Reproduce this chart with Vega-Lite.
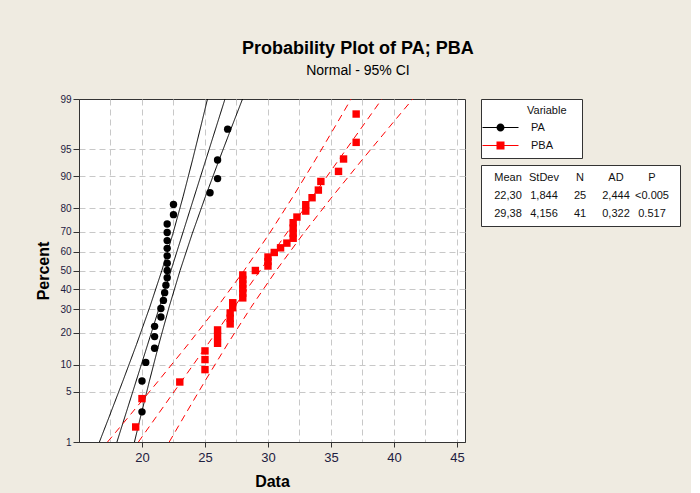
{
  "$schema": "https://vega.github.io/schema/vega-lite/v6.json",
  "background": "#EFEBE1",
  "padding": {"top": 39, "left": 35, "right": 10, "bottom": 5},
  "title": {
    "text": "Probability Plot of PA; PBA",
    "subtitle": "Normal - 95% CI",
    "anchor": "middle",
    "font": "Liberation Sans",
    "fontSize": 18,
    "fontWeight": "bold",
    "color": "#000000",
    "subtitleFont": "Liberation Sans",
    "subtitleFontSize": 14,
    "subtitleColor": "#000000",
    "subtitlePadding": 6,
    "offset": 16
  },
  "datasets": {
    "plot": [
      {"s": "PA", "k": "fit", "x": 18.011, "p": 1},
      {"s": "PA", "k": "fit", "x": 26.589, "p": 99},
      {"s": "PA", "k": "lo", "x": 16.62, "p": 1},
      {"s": "PA", "k": "lo", "x": 17.36, "p": 2.275},
      {"s": "PA", "k": "lo", "x": 18.48, "p": 6.681},
      {"s": "PA", "k": "lo", "x": 19.571, "p": 15.866},
      {"s": "PA", "k": "lo", "x": 20.611, "p": 30.854},
      {"s": "PA", "k": "lo", "x": 21.577, "p": 50},
      {"s": "PA", "k": "lo", "x": 22.455, "p": 69.146},
      {"s": "PA", "k": "lo", "x": 23.259, "p": 84.134},
      {"s": "PA", "k": "lo", "x": 24.012, "p": 93.319},
      {"s": "PA", "k": "lo", "x": 24.736, "p": 97.725},
      {"s": "PA", "k": "lo", "x": 25.198, "p": 99},
      {"s": "PA", "k": "hi", "x": 19.402, "p": 1},
      {"s": "PA", "k": "hi", "x": 19.864, "p": 2.275},
      {"s": "PA", "k": "hi", "x": 20.588, "p": 6.681},
      {"s": "PA", "k": "hi", "x": 21.341, "p": 15.866},
      {"s": "PA", "k": "hi", "x": 22.145, "p": 30.854},
      {"s": "PA", "k": "hi", "x": 23.023, "p": 50},
      {"s": "PA", "k": "hi", "x": 23.989, "p": 69.146},
      {"s": "PA", "k": "hi", "x": 25.029, "p": 84.134},
      {"s": "PA", "k": "hi", "x": 26.12, "p": 93.319},
      {"s": "PA", "k": "hi", "x": 27.24, "p": 97.725},
      {"s": "PA", "k": "hi", "x": 27.98, "p": 99},
      {"s": "PBA", "k": "fit", "x": 19.713, "p": 1},
      {"s": "PBA", "k": "fit", "x": 39.047, "p": 99},
      {"s": "PBA", "k": "lo", "x": 17.264, "p": 1},
      {"s": "PBA", "k": "lo", "x": 18.864, "p": 2.275},
      {"s": "PBA", "k": "lo", "x": 21.291, "p": 6.681},
      {"s": "PBA", "k": "lo", "x": 23.666, "p": 15.866},
      {"s": "PBA", "k": "lo", "x": 25.953, "p": 30.854},
      {"s": "PBA", "k": "lo", "x": 28.108, "p": 50},
      {"s": "PBA", "k": "lo", "x": 30.109, "p": 69.146},
      {"s": "PBA", "k": "lo", "x": 31.978, "p": 84.134},
      {"s": "PBA", "k": "lo", "x": 33.759, "p": 93.319},
      {"s": "PBA", "k": "lo", "x": 35.488, "p": 97.725},
      {"s": "PBA", "k": "lo", "x": 36.598, "p": 99},
      {"s": "PBA", "k": "hi", "x": 22.162, "p": 1},
      {"s": "PBA", "k": "hi", "x": 23.272, "p": 2.275},
      {"s": "PBA", "k": "hi", "x": 25.001, "p": 6.681},
      {"s": "PBA", "k": "hi", "x": 26.782, "p": 15.866},
      {"s": "PBA", "k": "hi", "x": 28.651, "p": 30.854},
      {"s": "PBA", "k": "hi", "x": 30.652, "p": 50},
      {"s": "PBA", "k": "hi", "x": 32.807, "p": 69.146},
      {"s": "PBA", "k": "hi", "x": 35.094, "p": 84.134},
      {"s": "PBA", "k": "hi", "x": 37.469, "p": 93.319},
      {"s": "PBA", "k": "hi", "x": 39.896, "p": 97.725},
      {"s": "PBA", "k": "hi", "x": 41.496, "p": 99},
      {"s": "PA", "k": "pt", "x": 20.0, "p": 2.76},
      {"s": "PA", "k": "pt", "x": 20.0, "p": 6.69},
      {"s": "PA", "k": "pt", "x": 20.3, "p": 10.63},
      {"s": "PA", "k": "pt", "x": 21.0, "p": 14.57},
      {"s": "PA", "k": "pt", "x": 21.0, "p": 18.5},
      {"s": "PA", "k": "pt", "x": 21.0, "p": 22.44},
      {"s": "PA", "k": "pt", "x": 21.5, "p": 26.38},
      {"s": "PA", "k": "pt", "x": 21.5, "p": 30.31},
      {"s": "PA", "k": "pt", "x": 21.7, "p": 34.25},
      {"s": "PA", "k": "pt", "x": 21.8, "p": 38.19},
      {"s": "PA", "k": "pt", "x": 21.9, "p": 42.13},
      {"s": "PA", "k": "pt", "x": 22.0, "p": 46.06},
      {"s": "PA", "k": "pt", "x": 22.0, "p": 50.0},
      {"s": "PA", "k": "pt", "x": 22.0, "p": 53.94},
      {"s": "PA", "k": "pt", "x": 22.0, "p": 57.87},
      {"s": "PA", "k": "pt", "x": 22.0, "p": 61.81},
      {"s": "PA", "k": "pt", "x": 22.0, "p": 65.75},
      {"s": "PA", "k": "pt", "x": 22.0, "p": 69.69},
      {"s": "PA", "k": "pt", "x": 22.0, "p": 73.62},
      {"s": "PA", "k": "pt", "x": 22.5, "p": 77.56},
      {"s": "PA", "k": "pt", "x": 22.5, "p": 81.5},
      {"s": "PA", "k": "pt", "x": 25.4, "p": 85.43},
      {"s": "PA", "k": "pt", "x": 26.0, "p": 89.37},
      {"s": "PA", "k": "pt", "x": 26.0, "p": 93.31},
      {"s": "PA", "k": "pt", "x": 26.8, "p": 97.24},
      {"s": "PBA", "k": "pt", "x": 19.5, "p": 1.69},
      {"s": "PBA", "k": "pt", "x": 20.0, "p": 4.11},
      {"s": "PBA", "k": "pt", "x": 23.0, "p": 6.52},
      {"s": "PBA", "k": "pt", "x": 25.0, "p": 8.94},
      {"s": "PBA", "k": "pt", "x": 25.0, "p": 11.35},
      {"s": "PBA", "k": "pt", "x": 25.0, "p": 13.77},
      {"s": "PBA", "k": "pt", "x": 26.0, "p": 16.18},
      {"s": "PBA", "k": "pt", "x": 26.0, "p": 18.6},
      {"s": "PBA", "k": "pt", "x": 26.0, "p": 21.01},
      {"s": "PBA", "k": "pt", "x": 27.0, "p": 23.43},
      {"s": "PBA", "k": "pt", "x": 27.0, "p": 25.85},
      {"s": "PBA", "k": "pt", "x": 27.0, "p": 28.26},
      {"s": "PBA", "k": "pt", "x": 27.2, "p": 30.68},
      {"s": "PBA", "k": "pt", "x": 27.2, "p": 33.09},
      {"s": "PBA", "k": "pt", "x": 28.0, "p": 35.51},
      {"s": "PBA", "k": "pt", "x": 28.0, "p": 37.92},
      {"s": "PBA", "k": "pt", "x": 28.0, "p": 40.34},
      {"s": "PBA", "k": "pt", "x": 28.0, "p": 42.75},
      {"s": "PBA", "k": "pt", "x": 28.0, "p": 45.17},
      {"s": "PBA", "k": "pt", "x": 28.0, "p": 47.58},
      {"s": "PBA", "k": "pt", "x": 29.0, "p": 50.0},
      {"s": "PBA", "k": "pt", "x": 30.0, "p": 52.42},
      {"s": "PBA", "k": "pt", "x": 30.0, "p": 54.83},
      {"s": "PBA", "k": "pt", "x": 30.0, "p": 57.25},
      {"s": "PBA", "k": "pt", "x": 30.5, "p": 59.66},
      {"s": "PBA", "k": "pt", "x": 31.0, "p": 62.08},
      {"s": "PBA", "k": "pt", "x": 31.5, "p": 64.49},
      {"s": "PBA", "k": "pt", "x": 32.0, "p": 66.91},
      {"s": "PBA", "k": "pt", "x": 32.0, "p": 69.32},
      {"s": "PBA", "k": "pt", "x": 32.0, "p": 71.74},
      {"s": "PBA", "k": "pt", "x": 32.0, "p": 74.15},
      {"s": "PBA", "k": "pt", "x": 32.3, "p": 76.57},
      {"s": "PBA", "k": "pt", "x": 33.0, "p": 78.99},
      {"s": "PBA", "k": "pt", "x": 33.0, "p": 81.4},
      {"s": "PBA", "k": "pt", "x": 33.5, "p": 83.82},
      {"s": "PBA", "k": "pt", "x": 34.0, "p": 86.23},
      {"s": "PBA", "k": "pt", "x": 34.2, "p": 88.65},
      {"s": "PBA", "k": "pt", "x": 35.6, "p": 91.06},
      {"s": "PBA", "k": "pt", "x": 36.0, "p": 93.48},
      {"s": "PBA", "k": "pt", "x": 37.0, "p": 95.89},
      {"s": "PBA", "k": "pt", "x": 37.0, "p": 98.31}
    ],
    "table": [
      {"r": "h", "c": "Mean", "t": "Mean"},
      {"r": "h", "c": "StDev", "t": "StDev"},
      {"r": "h", "c": "N", "t": "N"},
      {"r": "h", "c": "AD", "t": "AD"},
      {"r": "h", "c": "P", "t": "P"},
      {"r": "PA", "c": "Mean", "t": "22,30"},
      {"r": "PA", "c": "StDev", "t": "1,844"},
      {"r": "PA", "c": "N", "t": "25"},
      {"r": "PA", "c": "AD", "t": "2,444"},
      {"r": "PA", "c": "P", "t": "<0.005"},
      {"r": "PBA", "c": "Mean", "t": "29,38"},
      {"r": "PBA", "c": "StDev", "t": "4,156"},
      {"r": "PBA", "c": "N", "t": "41"},
      {"r": "PBA", "c": "AD", "t": "0,322"},
      {"r": "PBA", "c": "P", "t": "0.517"}
    ],
    "leg": [{"s": "PA"}, {"s": "PBA"}]
  },
  "spacing": 14,
  "resolve": {
    "scale": {"color": "independent", "shape": "independent"},
    "legend": {"color": "independent", "shape": "independent"}
  },
  "hconcat": [
    {
      "width": 386,
      "height": 343,
      "data": {"name": "plot"},
      "transform": [{"calculate": "quantileNormal(datum.p / 100)", "as": "z"}],
      "encoding": {
        "x": {
          "field": "x",
          "type": "quantitative",
          "title": "Data",
          "scale": {"domain": [15, 45.64], "nice": false, "zero": false},
          "axis": {
            "values": [17.5, 20, 22.5, 25, 27.5, 30, 32.5, 35, 37.5, 40, 42.5, 45],
            "labelExpr": "datum.value % 5 == 0 ? format(datum.value, 'd') : ''",
            "tickOpacity": {"condition": {"test": "datum.value % 5 == 0", "value": 1}, "value": 0},
            "tickSize": 5,
            "labelFontSize": 13,
            "labelPadding": 4,
            "titleFontSize": 16,
            "titleFontWeight": "bold",
            "titlePadding": 9,
            "grid": true
          }
        },
        "y": {
          "field": "z",
          "type": "quantitative",
          "title": "Percent",
          "scale": {"domain": [-2.32635, 2.32635], "nice": false, "zero": false},
          "axis": {
            "values": [-2.32635, -1.64485, -1.28155, -0.84162, -0.5244, -0.25335, 0, 0.25335, 0.5244, 0.84162, 1.28155, 1.64485, 2.32635],
            "labelExpr": "format(cumulativeNormal(datum.value) * 100, '.0f')",
            "gridOpacity": {"condition": {"test": "abs(datum.value) > 2.3", "value": 0}, "value": 1},
            "tickSize": 6,
            "labelFontSize": 10,
            "labelPadding": 2,
            "titleFontSize": 16,
            "titleFontWeight": "bold",
            "titlePadding": 8,
            "grid": true
          }
        },
        "color": {
          "field": "s",
          "type": "nominal",
          "scale": {"domain": ["PA", "PBA"], "range": ["#000000", "#FF0000"]},
          "legend": null
        }
      },
      "layer": [
        {
          "transform": [{"filter": "datum.k != 'pt'"}],
          "mark": {"type": "line", "strokeWidth": 1, "clip": true},
          "encoding": {
            "detail": {"field": "k", "type": "nominal"},
            "strokeDash": {
              "field": "s",
              "type": "nominal",
              "scale": {"domain": ["PA", "PBA"], "range": [[1, 0], [7, 5]]},
              "legend": null
            },
            "order": {"field": "p", "type": "quantitative"}
          }
        },
        {
          "transform": [{"filter": "datum.k == 'pt'"}],
          "mark": {"type": "point", "filled": true, "opacity": 1, "size": 55, "strokeWidth": 0},
          "encoding": {
            "shape": {
              "field": "s",
              "type": "nominal",
              "scale": {"domain": ["PA", "PBA"], "range": ["circle", "square"]},
              "legend": null
            }
          }
        }
      ]
    },
    {
      "spacing": 5,
      "vconcat": [
        {
          "width": 101,
          "height": 59,
          "data": {"name": "leg"},
          "mark": {"type": "point", "filled": true, "opacity": 0},
          "encoding": {
            "x": {"field": "s", "type": "nominal", "axis": null},
            "y": {"field": "s", "type": "nominal", "axis": null},
            "color": {
              "field": "s",
              "type": "nominal",
              "scale": {"domain": ["PA", "PBA"], "range": ["#000000", "#FF0000"]},
              "legend": {
                "title": "\u2800\u2800\u2800\u2800\u2800Variable", "orient": "top-left", "direction": "vertical", "offset": 0,
                "padding": 6,
                "titleFontSize": 11, "titleFontWeight": "normal", "titleColor": "#111111", "titleAnchor": "start", "titlePadding": 6,
                "labelFontSize": 11, "labelColor": "#111111",
                "symbolSize": 79, "symbolOffset": 8, "labelOffset": 25, "symbolStrokeWidth": 0, "symbolOpacity": 1, "rowPadding": 6
              }
            },
            "shape": {
              "field": "s",
              "type": "nominal",
              "scale": {
                "domain": ["PA", "PBA"],
                "range": [
                  "M-4.05,-0.11H4.05V0.11H-4.05Z M0.9,0A0.9,0.9,0,1,1,-0.9,0A0.9,0.9,0,1,1,0.9,0Z",
                  "M-4.05,-0.11H4.05V0.11H-4.05Z M-0.9,-0.9H0.9V0.9H-0.9Z"
                ]
              },
              "legend": {
                "title": "\u2800\u2800\u2800\u2800\u2800Variable", "orient": "top-left", "direction": "vertical", "offset": 0,
                "padding": 6,
                "titleFontSize": 11, "titleFontWeight": "normal", "titleColor": "#111111", "titleAnchor": "start", "titlePadding": 6,
                "labelFontSize": 11, "labelColor": "#111111",
                "symbolSize": 79, "symbolOffset": 8, "labelOffset": 25, "symbolStrokeWidth": 0, "symbolOpacity": 1, "rowPadding": 6
              }
            }
          }
        },
        {
          "width": 199,
          "height": 61,
          "data": {"name": "table"},
          "mark": {"type": "text", "fontSize": 11, "color": "#111111", "font": "Liberation Sans"},
          "encoding": {
            "x": {
              "field": "c",
              "type": "nominal",
              "scale": {"domain": ["Mean", "StDev", "N", "AD", "P"], "range": [27, 171], "padding": 0},
              "axis": null
            },
            "y": {
              "field": "r",
              "type": "nominal",
              "scale": {"domain": ["h", "PA", "PBA"], "range": [12.7, 49.3], "padding": 0},
              "axis": null
            },
            "text": {"field": "t"}
          }
        }
      ]
    }
  ],
  "config": {
    "font": "Liberation Sans",
    "view": {"fill": "#FFFFFF", "stroke": "#333333", "strokeWidth": 1},
    "axis": {
      "domainColor": "#333333",
      "tickColor": "#333333",
      "labelColor": "#1E2040",
      "titleColor": "#000000",
      "labelFont": "Liberation Sans",
      "titleFont": "Liberation Sans",
      "gridColor": "#C8C8C8",
      "gridDash": [6, 4],
      "gridWidth": 1
    }
  }
}
